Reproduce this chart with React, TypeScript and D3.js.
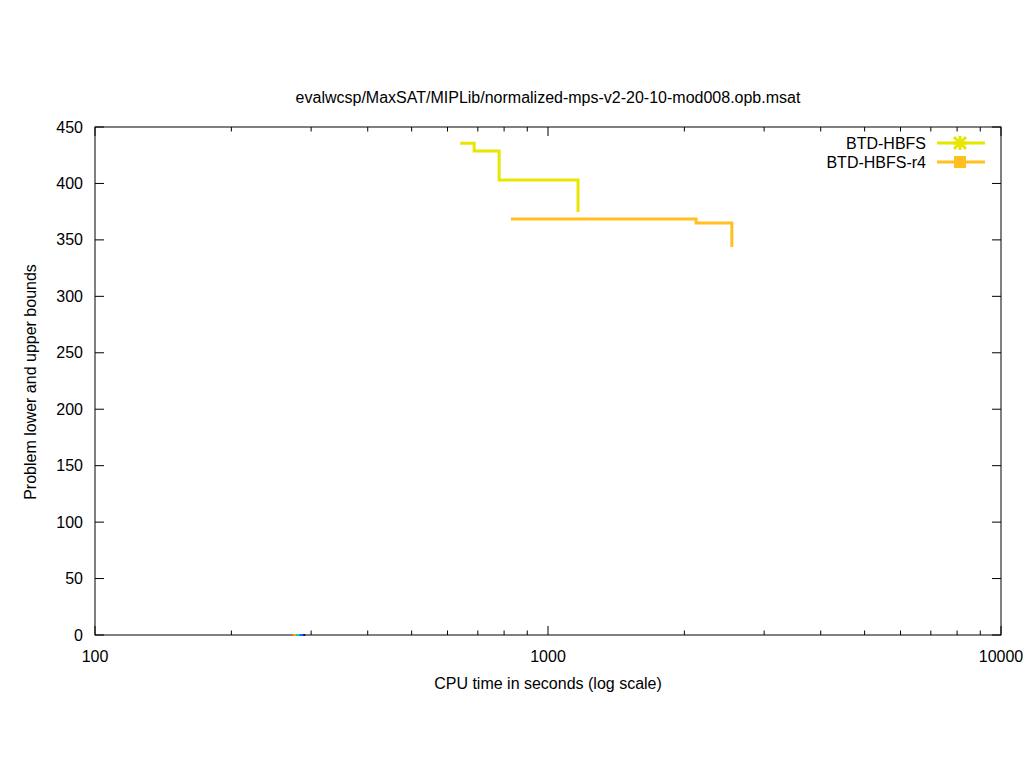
import React from "react";
import * as d3 from "d3";

const titleText = "evalwcsp/MaxSAT/MIPLib/normalized-mps-v2-20-10-mod008.opb.msat";
const xTicks = [100, 1000, 10000];
const yTicks = [0, 50, 100, 150, 200, 250, 300, 350, 400, 450];

const hbfsTimes = [640, 687, 780, 1165];
const hbfsBounds = [435.5, 428.7, 403, 374.7];
const r4Times = [828, 2123, 2546];
const r4Bounds = [368.5, 365, 343.7];

const seriesNames = ["BTD-HBFS", "BTD-HBFS-r4"];
const seriesColors = ["#e6e600", "#ffc020"];

// tiny segments at zero near x≈280
const zeroSegStarts = [273.5, 278.2, 283.2, 288.2];
const zeroSegEnds = [278.2, 283.2, 288.2, 291];
const zeroSegColors = ["#ffa500", "#00d0e0", "#2060ff", "#000080"];

const W = 1024, H = 768;
const L = 95, R = 1001, T = 127, B = 635;

export default function App() {
  const x = d3.scaleLog().domain([100, 10000]).range([L, R]);
  const y = d3.scaleLinear().domain([0, 450]).range([B, T]);
  const font = "'Liberation Sans', Arial, sans-serif";
  const fs = 16;

  const minor: number[] = [];
  for (const dec of [100, 1000]) for (let k = 2; k <= 9; k++) minor.push(dec * k);

  const line = d3
    .line<[number, number]>()
    .x((d) => x(d[0]))
    .y((d) => y(d[1]))
    .curve(d3.curveStepAfter);

  const hbfs = hbfsTimes.map((t, i) => [t, hbfsBounds[i]] as [number, number]);
  const r4 = r4Times.map((t, i) => [t, r4Bounds[i]] as [number, number]);

  return (
    <svg width={W} height={H} style={{ display: "block", position: "absolute", left: 0, top: 0 }} fontFamily={font}>
      <rect x={0} y={0} width={W} height={H} fill="#fff" />
      {yTicks.map((v) => (
        <g key={"y" + v}>
          <line x1={L} x2={L + 9} y1={y(v)} y2={y(v)} stroke="#000" />
          <line x1={R} x2={R - 9} y1={y(v)} y2={y(v)} stroke="#000" />
          <text x={83} y={y(v) + 5.5} textAnchor="end" fontSize={fs}>{v}</text>
        </g>
      ))}
      {xTicks.map((v) => (
        <g key={"x" + v}>
          <line x1={x(v)} x2={x(v)} y1={B} y2={B - 9} stroke="#000" />
          <line x1={x(v)} x2={x(v)} y1={T} y2={T + 9} stroke="#000" />
          <text x={x(v)} y={662} textAnchor="middle" fontSize={fs}>{v}</text>
        </g>
      ))}
      {minor.map((v) => (
        <g key={"m" + v}>
          <line x1={x(v)} x2={x(v)} y1={B} y2={B - 4.5} stroke="#000" />
          <line x1={x(v)} x2={x(v)} y1={T} y2={T + 4.5} stroke="#000" />
        </g>
      ))}
      <path d={line(hbfs) || ""} fill="none" stroke={seriesColors[0]} strokeWidth={3} />
      <path d={line(r4) || ""} fill="none" stroke={seriesColors[1]} strokeWidth={3} />
      <rect x={L} y={T} width={R - L} height={B - T} fill="none" stroke="#000" />
      {zeroSegStarts.map((s, i) => (
        <line key={"z" + i} x1={x(s)} x2={x(zeroSegEnds[i])} y1={y(0)} y2={y(0)} stroke={zeroSegColors[i]} strokeWidth={2} />
      ))}
      {seriesNames.map((n, i) => {
        const ly = 143 + i * 19;
        return (
          <g key={n}>
            <text x={926} y={ly + 5.5} textAnchor="end" fontSize={fs}>{n}</text>
            <line x1={937} x2={985} y1={ly} y2={ly} stroke={seriesColors[i]} strokeWidth={3} />
            {i === 0 ? (
              <g stroke={seriesColors[0]} strokeWidth={3}>
                <line x1={954} x2={966} y1={ly - 6} y2={ly + 6} />
                <line x1={954} x2={966} y1={ly + 6} y2={ly - 6} />
                <line x1={960} x2={960} y1={ly - 7} y2={ly + 7} />
                <line x1={953} x2={967} y1={ly} y2={ly} />
              </g>
            ) : (
              <rect x={954} y={ly - 6} width={12} height={12} fill={seriesColors[1]} />
            )}
          </g>
        );
      })}
      <text x={548} y={103} textAnchor="middle" fontSize={fs}>{titleText}</text>
      <text x={548} y={689} textAnchor="middle" fontSize={fs}>CPU time in seconds (log scale)</text>
      <text transform={`translate(36,382) rotate(-90)`} textAnchor="middle" fontSize={fs}>Problem lower and upper bounds</text>
    </svg>
  );
}
